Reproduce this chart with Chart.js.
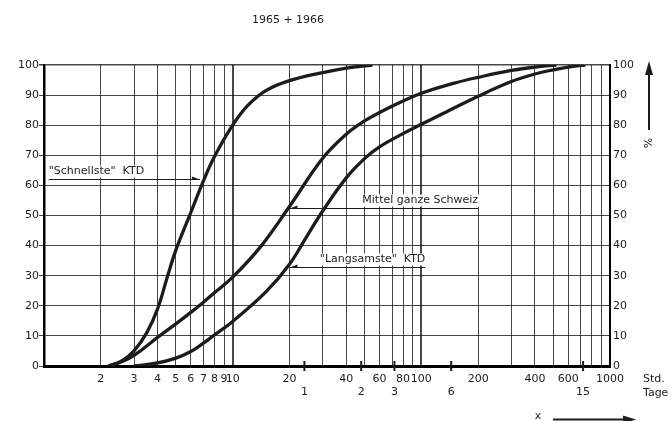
<!DOCTYPE html>
<html>
<head>
<meta charset="utf-8">
<script src="https://cdn.jsdelivr.net/npm/chart.js@4.4.1/dist/chart.umd.min.js"></script>
<style>
  html, body { margin: 0; padding: 0; background: #fff; }
</style>
</head>
<body>
<canvas id="chart" width="672" height="421"></canvas>
<script>
// log axis (Std.) grid values and which of them get a label
const hourTicks = [1, 2, 3, 4, 5, 6, 7, 8, 9, 10, 20, 30, 40, 50, 60, 70, 80, 90,
  100, 200, 300, 400, 500, 600, 700, 800, 900, 1000];
const hourLabels = [2, 3, 4, 5, 6, 7, 8, 9, 10, 20, 40, 60, 80, 100, 200, 400, 600, 1000];

// second scale (Tage), placed on the same hour axis
const dayTicks = [24, 48, 72, 144, 720];
const dayLabels = ['1', '2', '3', '6', '15'];

// "Schnellste" KTD
const fastHours = [2.2, 2.6, 3, 3.5, 4, 4.5, 5, 6, 7, 8, 10, 12, 15, 20, 30, 40, 55];
const fastPct = [0, 1.8, 5, 11, 19, 29.5, 38.5, 51, 61.5, 69.5, 80, 86.5, 91.5, 94.8, 97.5, 99, 100];

// Mittel ganze Schweiz
const midHours = [2.2, 2.6, 3, 4, 5, 6, 7, 8, 10, 14, 20, 30, 40, 50, 60, 80, 100, 150, 200, 300, 400, 520];
const midPct = [0, 1.5, 3.5, 9.5, 14, 17.8, 21.2, 24.3, 29.5, 39.5, 53, 69, 77, 81.4, 84.2, 88, 90.6, 94, 95.9, 98.2, 99.3, 100];

// "Langsamste" KTD
const slowHours = [3, 4, 5, 6, 7, 8, 10, 15, 20, 25, 30, 40, 50, 60, 80, 100, 125, 200, 300, 400, 500, 600, 740];
const slowPct = [0, 1, 2.6, 4.8, 7.6, 10.3, 14.8, 24.6, 33.8, 43.6, 51.5, 62.5, 68.9, 72.8, 77.2, 80.3, 83.3, 89.6, 94.5, 97, 98.4, 99.3, 100];

const FONT = "'DejaVu Sans', sans-serif";
const INK = '#1c1c1c';

const toPoints = (hrs, pct) => hrs.map((h, i) => ({ x: h, y: pct[i] }));

const curve = (label, hrs, pct) => ({
  label: label,
  data: toPoints(hrs, pct),
  borderColor: INK,
  borderWidth: 3.3,
  pointRadius: 0,
  fill: false,
  tension: 0.4
});

// labels with leader lines, the %-arrow, Std./Tage and the x-arrow
const annotations = {
  id: 'annotations',
  notes: [
    { text: '"Schnellste"  KTD', pct: 62.1, from: 1.06, to: 6.7, side: 'left' },
    { text: 'Mittel ganze Schweiz', pct: 52.4, from: 20, to: 200, side: 'right' },
    { text: '"Langsamste"  KTD', pct: 32.9, from: 20, to: 105, side: 'right' }
  ],
  beforeDatasetsDraw(chart) {
    const { ctx, scales: { x, y } } = chart;
    ctx.save();
    ctx.font = '11px ' + FONT;
    ctx.textBaseline = 'middle';
    this.notes.forEach(n => {
      const ly = Math.round(y.getPixelForValue(n.pct)) + 0.5;
      const x0 = x.getPixelForValue(n.from);
      const x1 = x.getPixelForValue(n.to);
      const w = ctx.measureText(n.text).width;
      const tx = n.side === 'left' ? x0 : x1 - w;
      const ty = ly - 8;
      ctx.fillStyle = '#fff';
      ctx.fillRect(tx - 2, ty - 6, w + 4, 12);
      ctx.fillStyle = INK;
      ctx.textAlign = 'left';
      ctx.fillText(n.text, tx, ty);
      ctx.strokeStyle = INK;
      ctx.lineWidth = 1.2;
      ctx.beginPath();
      ctx.moveTo(x0, ly);
      ctx.lineTo(x1, ly);
      ctx.stroke();
      // small half arrow pointing to the curve
      ctx.beginPath();
      if (n.side === 'left') {
        ctx.moveTo(x1, ly);
        ctx.lineTo(x1 - 8, ly - 3);
        ctx.lineTo(x1 - 8, ly);
      } else {
        ctx.moveTo(x0, ly);
        ctx.lineTo(x0 + 8, ly - 3);
        ctx.lineTo(x0 + 8, ly);
      }
      ctx.closePath();
      ctx.fill();
    });
    ctx.restore();
  },
  afterDraw(chart) {
    const { ctx, chartArea, scales: { x } } = chart;
    ctx.save();
    ctx.fillStyle = INK;
    ctx.strokeStyle = INK;
    ctx.font = '11px ' + FONT;
    ctx.textBaseline = 'middle';

    // title
    ctx.textAlign = 'center';
    ctx.fillText('1965 + 1966', 288, 20);

    // day ticks crossing the axis line
    ctx.lineWidth = 2;
    dayTicks.forEach(h => {
      const px = x.getPixelForValue(h);
      ctx.beginPath();
      ctx.moveTo(px, chartArea.bottom - 5);
      ctx.lineTo(px, chartArea.bottom + 5);
      ctx.stroke();
    });

    // unit names
    ctx.textAlign = 'left';
    ctx.fillText('Std.', chartArea.right + 33, 379);
    ctx.fillText('Tage', chartArea.right + 33, 393);

    // % with arrow
    const ax = chartArea.right + 39;
    ctx.lineWidth = 2;
    ctx.beginPath();
    ctx.moveTo(ax, 130);
    ctx.lineTo(ax, 72);
    ctx.stroke();
    ctx.beginPath();
    ctx.moveTo(ax, 61);
    ctx.lineTo(ax - 4, 75);
    ctx.lineTo(ax + 4, 75);
    ctx.closePath();
    ctx.fill();
    ctx.save();
    ctx.translate(ax, 143);
    ctx.rotate(-Math.PI / 2);
    ctx.textAlign = 'center';
    ctx.fillText('%', 0, 0);
    ctx.restore();

    // x arrow
    ctx.textAlign = 'center';
    ctx.fillText('x', 538, 416);
    ctx.beginPath();
    ctx.moveTo(553, 419.5);
    ctx.lineTo(626, 419.5);
    ctx.stroke();
    ctx.beginPath();
    ctx.moveTo(636, 419.5);
    ctx.lineTo(623, 415.5);
    ctx.lineTo(623, 423.5);
    ctx.closePath();
    ctx.fill();
    ctx.restore();
  }
};

Chart.defaults.font.family = FONT;
Chart.defaults.font.size = 11;
Chart.defaults.color = INK;

new Chart(document.getElementById('chart'), {
  type: 'line',
  data: {
    datasets: [
      curve('"Schnellste" KTD', fastHours, fastPct),
      curve('Mittel ganze Schweiz', midHours, midPct),
      curve('"Langsamste" KTD', slowHours, slowPct)
    ]
  },
  options: {
    responsive: false,
    animation: false,
    devicePixelRatio: 1,
    layout: { padding: { top: 65, left: 0, right: 0, bottom: 0 } },
    plugins: {
      legend: { display: false },
      tooltip: { enabled: false }
    },
    scales: {
      x: {
        type: 'logarithmic',
        position: 'bottom',
        weight: 0,
        min: 1,
        max: 1000,
        afterBuildTicks: (scale) => { scale.ticks = hourTicks.map(v => ({ value: v })); },
        afterFit: (scale) => { scale.height = 20; },
        ticks: {
          autoSkip: false,
          maxRotation: 0,
          minRotation: 0,
          padding: 7,
          callback: (value) => hourLabels.includes(value) ? String(value) : ''
        },
        grid: {
          drawTicks: false,
          color: 'rgba(0,0,0,0.72)',
          lineWidth: (ctx) => (ctx.tick && (ctx.tick.value === 10 || ctx.tick.value === 100)) ? 2 : 1
        },
        border: { display: true, color: '#000', width: 3 }
      },
      x2: {
        type: 'logarithmic',
        position: 'bottom',
        weight: 1,
        min: 1,
        max: 1000,
        afterBuildTicks: (scale) => { scale.ticks = dayTicks.map(v => ({ value: v })); },
        afterFit: (scale) => { scale.height = 35; },
        ticks: {
          autoSkip: false,
          maxRotation: 0,
          minRotation: 0,
          padding: 0,
          callback: (value, i) => dayLabels[i]
        },
        grid: { display: false, drawTicks: false },
        border: { display: false }
      },
      y: {
        position: 'left',
        min: 0,
        max: 100,
        afterFit: (scale) => { scale.width = 44; },
        ticks: { stepSize: 10, padding: 0 },
        grid: {
          color: 'rgba(0,0,0,0.72)',
          tickLength: 5,
          lineWidth: (ctx) => (ctx.tick && ctx.tick.value === 100) ? 1.6 : 1
        },
        border: { display: true, color: '#000', width: 2.5 }
      },
      y2: {
        position: 'right',
        min: 0,
        max: 100,
        afterFit: (scale) => { scale.width = 62; },
        ticks: { stepSize: 10, padding: 3 },
        grid: { drawOnChartArea: false, drawTicks: false },
        border: { display: true, color: '#000', width: 2 }
      }
    }
  },
  plugins: [annotations]
});
</script>
</body>
</html>
